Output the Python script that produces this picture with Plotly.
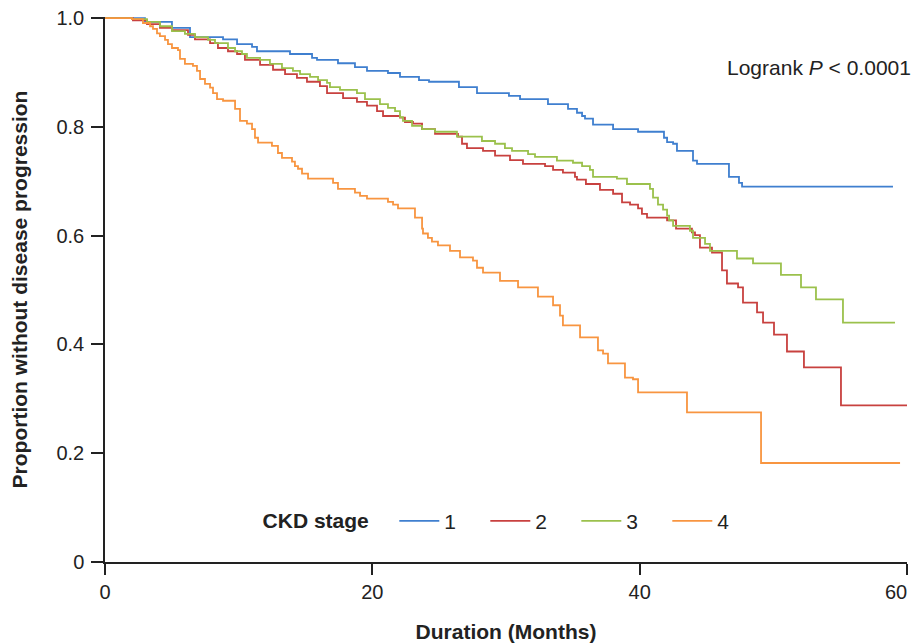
import plotly.graph_objects as go

# Stage 1 (blue)
s1_t = [0, 2.99, 5.01, 6.36, 8.83, 9.88, 11.00, 11.37, 13.84, 15.49, 15.86, 17.43, 18.70, 19.60, 21.17, 22.07,
        23.49, 24.24, 26.48, 27.83, 30.22, 31.05, 33.14, 34.64, 35.31, 35.69, 35.91, 36.51, 38.01, 39.88,
        41.82, 42.05, 42.50, 42.79, 43.99, 44.29, 46.68, 47.43, 47.66, 58.95]
s1_s = [1.0, 0.993, 0.982, 0.965, 0.961, 0.952, 0.947, 0.939, 0.934, 0.927, 0.923, 0.917, 0.910, 0.903, 0.899, 0.892,
        0.886, 0.883, 0.873, 0.862, 0.857, 0.851, 0.842, 0.833, 0.826, 0.820, 0.815, 0.804, 0.796, 0.791,
        0.780, 0.772, 0.769, 0.756, 0.738, 0.732, 0.708, 0.697, 0.690, 0.690]

# Stage 2 (red)
s2_t = [0, 2.09, 3.14, 4.11, 5.01, 6.21, 6.73, 7.86, 8.45, 9.20, 9.88, 10.47, 11.60, 12.57, 13.47, 14.36, 15.11,
        16.08, 16.61, 17.81, 18.85, 19.60, 20.35, 20.80, 22.07, 22.44, 23.04, 23.72, 24.69, 26.41, 26.71, 27.08,
        28.28, 29.18, 30.30, 31.27, 32.92, 33.52, 34.26, 35.16, 35.31, 35.98, 37.03, 38.01, 38.68, 39.28, 39.88,
        40.17, 40.55, 42.05, 42.72, 43.91, 44.14, 44.51, 45.41, 46.16, 46.53, 47.36, 47.73, 48.78, 49.23, 50.05,
        51.02, 52.29, 55.06, 60.0]
s2_s = [1.0, 0.996, 0.989, 0.982, 0.978, 0.969, 0.961, 0.954, 0.945, 0.939, 0.934, 0.923, 0.914, 0.905, 0.897, 0.890,
        0.883, 0.875, 0.862, 0.853, 0.846, 0.839, 0.829, 0.820, 0.817, 0.809, 0.806, 0.796, 0.787, 0.782, 0.769,
        0.761, 0.756, 0.747, 0.739, 0.732, 0.728, 0.721, 0.716, 0.708, 0.703, 0.695, 0.684, 0.677, 0.661, 0.657,
        0.650, 0.640, 0.633, 0.628, 0.613, 0.606, 0.601, 0.578, 0.569, 0.536, 0.512, 0.505, 0.477, 0.459, 0.440,
        0.418, 0.387, 0.358, 0.288, 0.288]

# Stage 3 (green)
s3_t = [0, 2.02, 3.14, 4.11, 5.01, 5.98, 6.73, 7.71, 8.23, 9.20, 9.73, 10.25, 10.62, 11.60, 12.34, 13.24, 14.06,
        14.59, 15.34, 15.94, 16.61, 16.83, 17.58, 18.85, 19.45, 20.57, 21.17, 21.70, 22.07, 22.29, 22.97, 23.72,
        24.69, 26.33, 28.20, 29.18, 29.92, 30.45, 31.65, 32.17, 33.81, 35.01, 35.69, 36.28, 36.51, 38.30, 39.05,
        40.77, 41.00, 41.37, 41.75, 42.05, 42.20, 42.50, 43.76, 43.99, 44.89, 45.26, 47.28, 48.48, 50.57, 52.07,
        53.19, 55.21, 59.10]
s3_s = [1.0, 0.998, 0.993, 0.985, 0.976, 0.971, 0.965, 0.960, 0.954, 0.945, 0.939, 0.934, 0.927, 0.923, 0.916, 0.908,
        0.903, 0.897, 0.892, 0.886, 0.881, 0.873, 0.868, 0.862, 0.851, 0.842, 0.835, 0.829, 0.818, 0.811, 0.802,
        0.796, 0.791, 0.782, 0.774, 0.769, 0.761, 0.756, 0.750, 0.745, 0.738, 0.734, 0.728, 0.721, 0.708, 0.705,
        0.695, 0.686, 0.670, 0.657, 0.648, 0.637, 0.628, 0.618, 0.609, 0.596, 0.585, 0.572, 0.558, 0.549, 0.528,
        0.505, 0.483, 0.440, 0.440]

# Stage 4 (orange)
s4_t = [0, 2.02, 2.84, 3.37, 3.59, 3.89, 4.11, 4.49, 4.71, 5.01, 5.46, 5.61, 5.98, 6.58, 6.88, 7.11, 7.48, 7.86,
        8.08, 8.38, 8.83, 9.73, 10.10, 10.62, 11.00, 11.22, 11.45, 12.49, 12.94, 13.24, 13.99, 14.21, 14.44, 14.74,
        15.19, 17.06, 17.43, 18.70, 19.08, 19.60, 21.17, 21.55, 21.92, 23.19, 23.72, 23.79, 24.16, 24.46, 24.91,
        25.81, 26.56, 27.53, 27.83, 28.28, 29.55, 30.90, 32.39, 33.52, 34.04, 34.26, 35.54, 36.88, 37.26, 37.63,
        38.90, 39.50, 39.88, 43.54, 49.08, 59.48]
s4_s = [1.0, 0.998, 0.991, 0.985, 0.980, 0.972, 0.967, 0.960, 0.952, 0.945, 0.941, 0.925, 0.916, 0.912, 0.903, 0.888,
        0.879, 0.872, 0.862, 0.851, 0.848, 0.833, 0.811, 0.806, 0.796, 0.780, 0.771, 0.765, 0.752, 0.743, 0.736,
        0.728, 0.723, 0.714, 0.705, 0.697, 0.686, 0.679, 0.673, 0.668, 0.662, 0.657, 0.650, 0.633, 0.613, 0.604,
        0.596, 0.589, 0.582, 0.572, 0.560, 0.554, 0.541, 0.532, 0.517, 0.505, 0.488, 0.472, 0.453, 0.435, 0.413,
        0.389, 0.383, 0.365, 0.339, 0.336, 0.312, 0.275, 0.182, 0.182]

stages = ["1", "2", "3", "4"]
colors = ["#3f7fcf", "#c8413f", "#9bc14c", "#f89540"]
x_ticks = [0, 20, 40, 60]
x_tick_text = ["0", "20", "40", ""]   # the last label ("60") is placed as an annotation to keep it inside the page
last_x_label = "60"
y_ticks = [0, 0.2, 0.4, 0.6, 0.8, 1.0]
y_tick_text = ["0", "0.2", "0.4", "0.6", "0.8", "1.0"]

fig = go.Figure()
for name, t, s, c in zip(stages, [s1_t, s2_t, s3_t, s4_t], [s1_s, s2_s, s3_s, s4_s], colors):
    fig.add_trace(go.Scatter(x=t, y=s, mode="lines", name=name, line=dict(color=c, width=1.8, shape="hv")))

FAM = "Liberation Sans, Arial, sans-serif"
tick_font = dict(family=FAM, size=20, color="#222")
NB = "\u00a0"
fig.update_layout(
    width=920, height=644,
    margin=dict(l=97, r=21, t=9, b=90),
    paper_bgcolor="white", plot_bgcolor="white",
    font=dict(family=FAM, size=20, color="#222"),
    showlegend=True,
    legend=dict(
        orientation="h", x=0.194, y=0.075, xanchor="left", yanchor="middle",
        title=dict(text="<b>CKD stage</b>" + NB * 3, side="left", font=dict(size=21)),
        font=dict(size=21), bgcolor="rgba(0,0,0,0)", itemwidth=40, tracegroupgap=0,
        entrywidth=36, entrywidthmode="pixels",
    ),
    xaxis=dict(
        range=[0, 60], tickvals=x_ticks, ticktext=x_tick_text, showline=True, linecolor="#222", linewidth=1.5,
        ticks="outside", ticklen=11, tickcolor="#222", tickwidth=1.5, showgrid=False, zeroline=False,
        automargin=False, ticklabeloverflow="allow",
        title=dict(text="<b>Duration (Months)</b>", font=dict(size=21), standoff=23),
        tickfont=tick_font,
    ),
    yaxis=dict(
        range=[0, 1.002], tickvals=y_ticks, ticktext=y_tick_text, showline=True, linecolor="#222",
        linewidth=1.5, ticks="outside", ticklen=12, tickcolor="#222", tickwidth=1.5, showgrid=False,
        zeroline=False, automargin=False, ticklabelstandoff=3, ticklabeloverflow="allow",
        title=dict(text="<b>Proportion without disease progression</b>", font=dict(size=21), standoff=32),
        tickfont=tick_font,
    ),
    annotations=[
        dict(
            text="Logrank <i>P</i> < 0.0001", x=1.008, y=0.907, xref="paper", yref="paper",
            xanchor="right", yanchor="middle", showarrow=False, font=dict(size=21, color="#222"),
        ),
        dict(
            text=last_x_label, x=x_ticks[-1], y=0, xref="x", yref="y", xanchor="right", yanchor="middle",
            xshift=2, yshift=-30, showarrow=False, font=tick_font,
        ),
    ],
)

fig.write_html("out.html")
